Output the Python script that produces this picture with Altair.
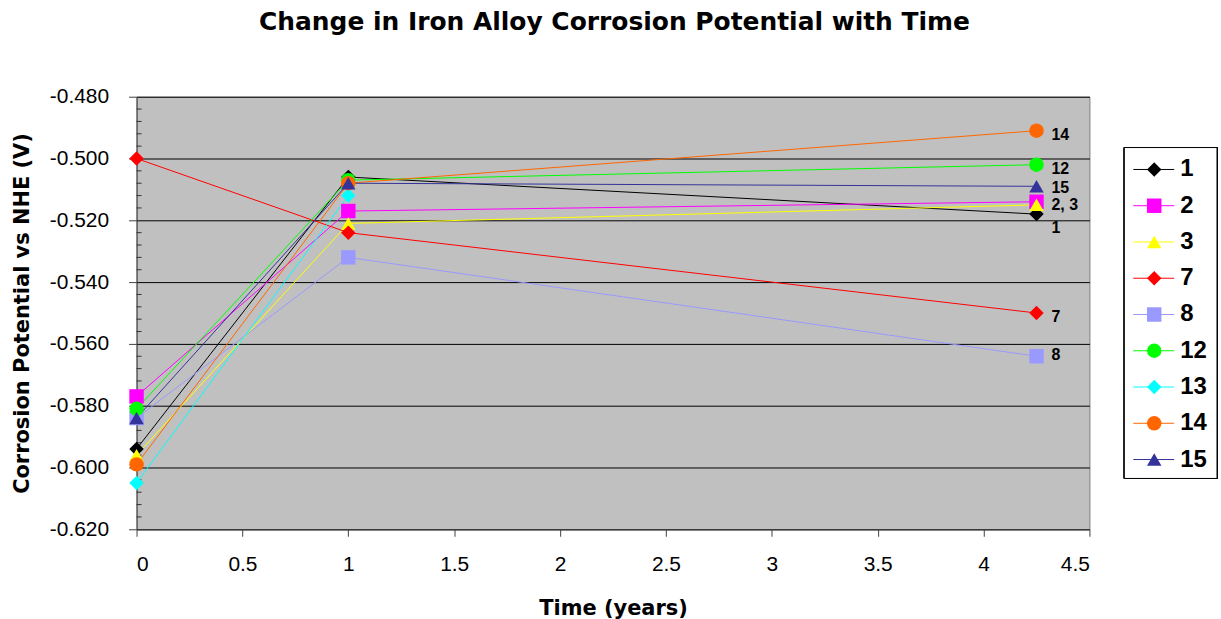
import altair as alt
import pandas as pd

series = ["1", "2", "3", "7", "8", "12", "13", "14", "15"]
colors = ["#000000", "#FF00FF", "#FFFF00", "#FF0000", "#9999FF",
          "#00FF00", "#00FFFF", "#FF6600", "#333399"]
shapes = ["diamond", "square", "triangle-up", "diamond", "square",
          "circle", "diamond", "circle", "triangle-up"]

times = [0, 1, 4.25]
v_t0 = [-0.594, -0.577, -0.596, -0.500, -0.584, -0.581, -0.605, -0.599, -0.584]
v_t1 = [-0.506, -0.517, -0.521, -0.524, -0.532, -0.507, -0.512, -0.508, -0.508]
v_t425 = [-0.518, -0.514, -0.515, -0.550, -0.564, -0.502, None, -0.491, -0.509]

label_text = ["14", "12", "15", "2, 3", "1", "7", "8"]
label_y = [-0.4923, -0.5035, -0.5094, -0.5152, -0.5226, -0.5513, -0.5635]
label_x = [4.25] * len(label_text)

y_ticks = [-0.62, -0.60, -0.58, -0.56, -0.54, -0.52, -0.50, -0.48]
x_ticks = [0, 0.5, 1, 1.5, 2, 2.5, 3, 3.5, 4, 4.5]
minor_ticks = [round(-0.62 + 0.004 * i, 3) for i in range(36) if i % 5 != 0]

rows = []
for i, s in enumerate(series):
    for t, v in zip(times, [v_t0[i], v_t1[i], v_t425[i]]):
        if v is not None:
            rows.append({"series": s, "order": i, "time": t, "potential": v})
df = pd.DataFrame(rows)
labels_df = pd.DataFrame({"text": label_text, "time": label_x, "potential": label_y})
minor_df = pd.DataFrame({"potential": minor_ticks})
legend_df = pd.DataFrame({"series": series, "rank": list(range(len(series)))})

color_scale = alt.Scale(domain=series, range=colors)
shape_scale = alt.Scale(domain=series, range=shapes)

x_enc = alt.X("time:Q", scale=alt.Scale(domain=[0, 4.5], nice=False),
              axis=alt.Axis(values=x_ticks, grid=False, title="Time (years)",
                            labelExpr="format(datum.value, '~g')"))
y_enc = alt.Y("potential:Q", scale=alt.Scale(domain=[-0.62, -0.48], nice=False),
              axis=alt.Axis(values=y_ticks, grid=True, gridColor="#000000", gridOpacity=1,
                            gridWidth=1, title="Corrosion Potential vs NHE (V)",
                            labelExpr="replace(format(datum.value, '.3f'), '\u2212', '-')"))

minor = alt.Chart(minor_df).mark_rule(color="#333333", strokeWidth=1).encode(
    y=alt.Y("potential:Q", scale=alt.Scale(domain=[-0.62, -0.48], nice=False)),
    x=alt.value(0), x2=alt.value(5))

lines = alt.Chart(df).mark_line(strokeWidth=1).encode(
    x=x_enc, y=y_enc,
    color=alt.Color("series:N", scale=color_scale, legend=None),
    detail="series:N", order="time:Q")

points = alt.Chart(df).mark_point(filled=True, size=210, opacity=1).encode(
    x="time:Q", y="potential:Q",
    color=alt.Color("series:N", scale=color_scale, legend=None),
    shape=alt.Shape("series:N", scale=shape_scale, legend=None),
    order="order:Q")

labels = alt.Chart(labels_df).mark_text(
    align="left", baseline="middle", dx=15, font="Liberation Sans",
    fontSize=16, fontWeight="bold", color="#000000").encode(
    x="time:Q", y="potential:Q", text="text:N")

main = alt.layer(minor, lines, points, labels).properties(
    width=956, height=434,
    view=alt.ViewBackground(fill="#C0C0C0", stroke="#808080", strokeWidth=1))

leg_y = alt.Y("rank:Q", scale=alt.Scale(domain=[-2.007, 9.924], reverse=True, nice=False, zero=False), axis=None)
box = alt.Chart(legend_df).mark_rect(fill="#FFFFFF", stroke="#000000", strokeWidth=1).encode(
    x=alt.value(0), x2=alt.value(93), y=alt.value(51), y2=alt.value(383))
leg_lines = alt.Chart(legend_df).mark_rule(strokeWidth=1).encode(
    x=alt.value(9), x2=alt.value(50), y=leg_y,
    color=alt.Color("series:N", scale=color_scale, legend=None))
leg_points = alt.Chart(legend_df).mark_point(filled=True, size=210, opacity=1).encode(
    x=alt.value(30), y=leg_y,
    color=alt.Color("series:N", scale=color_scale, legend=None),
    shape=alt.Shape("series:N", scale=shape_scale, legend=None))
leg_text = alt.Chart(legend_df).mark_text(
    align="left", baseline="middle", font="Liberation Sans", fontSize=24,
    fontWeight="bold", color="#000000").encode(
    x=alt.value(56), y=leg_y, text="series:N")
legend = alt.layer(box, leg_lines, leg_points, leg_text).properties(
    width=93, height=434,
    view=alt.ViewBackground(stroke="transparent"))

chart = alt.hconcat(main, legend, spacing=33).properties(
    title=alt.TitleParams("Change in Iron Alloy Corrosion Potential with Time",
                          font="DejaVu Sans", fontSize=25, fontWeight="bold",
                          anchor="middle", offset=50, color="#000000"),
    background="#FFFFFF",
    padding={"left": 10, "top": 9, "right": 3, "bottom": 5}
).configure_axis(
    labelFont="Liberation Sans", labelFontSize=21, labelColor="#000000",
    titleFont="DejaVu Sans", titleFontSize=21, titleFontWeight="bold", titleColor="#000000",
    domainColor="#404040", tickColor="#404040", tickSize=8
).configure_axisX(
    labelPadding=17, titlePadding=23, tickSize=7
).configure_axisY(
    labelPadding=20, titlePadding=17
)

chart.save("out.html", embed_options={"renderer": "svg", "actions": False})
